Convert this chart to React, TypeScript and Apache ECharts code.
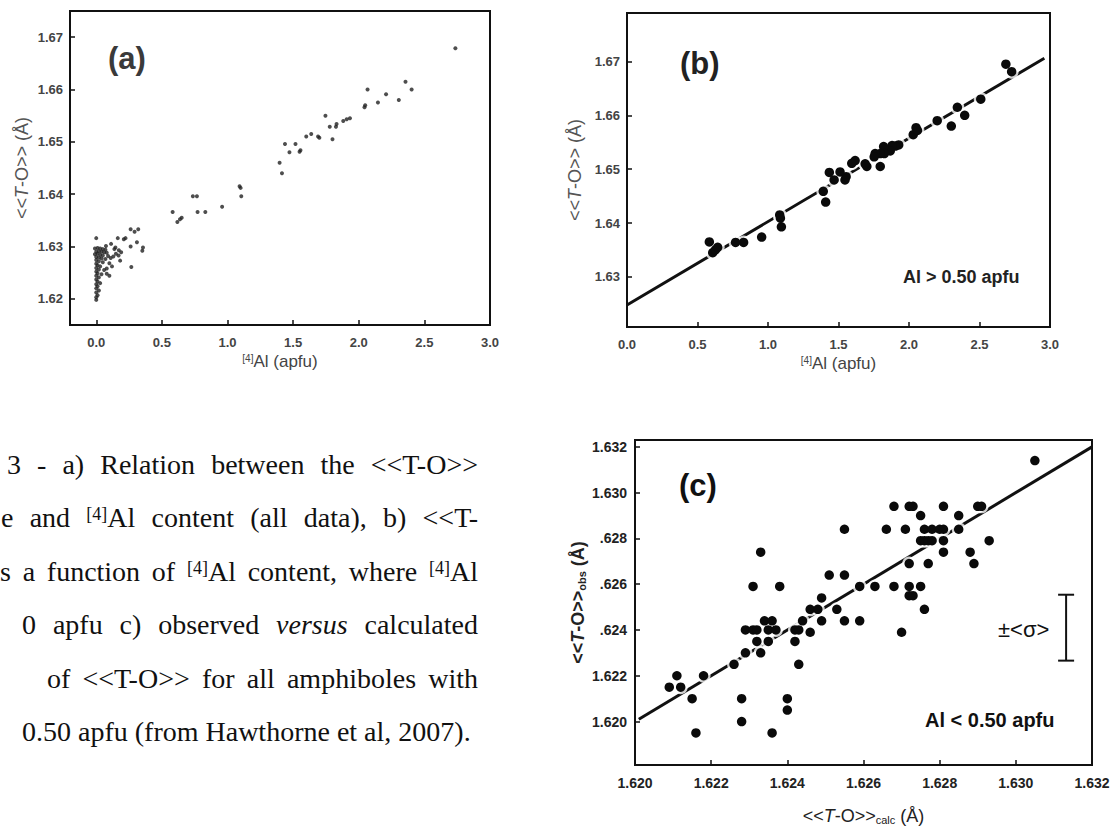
import React, { useEffect, useRef } from "react";
import * as echarts from "echarts";

// ---------- Data ----------
// Panel (a): all data, [4]Al (apfu) vs <<T-O>> (Å)
const panelAHighAl: number[][] = [
  [2.736, 1.6679], [2.356, 1.6615], [2.403, 1.66], [2.305, 1.658], [2.208, 1.6591], [2.146, 1.6575],
  [2.067, 1.66], [2.049, 1.657], [2.044, 1.6566], [1.933, 1.6545], [1.908, 1.6543], [1.882, 1.654],
  [1.831, 1.6534], [1.826, 1.6529], [1.779, 1.6529], [1.746, 1.655], [1.8, 1.6505], [1.7, 1.6508],
  [1.69, 1.651], [1.638, 1.6515], [1.6, 1.651], [1.556, 1.6484], [1.549, 1.6481], [1.518, 1.6496],
  [1.472, 1.648], [1.438, 1.6496], [1.415, 1.644], [1.397, 1.646], [1.1, 1.6412], [1.092, 1.6415],
  [1.105, 1.6396], [0.959, 1.6376], [0.831, 1.6366], [0.772, 1.6366], [0.767, 1.6396], [0.736, 1.6396],
  [0.582, 1.6366], [0.651, 1.6355], [0.638, 1.6352], [0.618, 1.6347],
];
const panelALowAl: number[][] = [
  [0.0, 1.6316], [0.074, 1.6301], [0.113, 1.6305], [0.138, 1.6295], [0.146, 1.6298], [0.164, 1.6316],
  [0.172, 1.6293], [0.182, 1.6273], [0.21, 1.6314], [0.223, 1.6316], [0.262, 1.63], [0.267, 1.6261],
  [0.31, 1.6308], [0.351, 1.6292], [0.356, 1.6298], [0.262, 1.6333], [0.292, 1.6328], [0.32, 1.6333],
  [-0.01, 1.6296], [0.01, 1.6297], [0.03, 1.6296], [0.05, 1.6295], [0.07, 1.6294], [0.0, 1.629],
  [0.02, 1.6291], [0.04, 1.629], [0.06, 1.6289], [0.08, 1.6288], [-0.01, 1.6285], [0.01, 1.6286],
  [0.03, 1.6284], [0.05, 1.6283], [0.09, 1.6282], [0.0, 1.628], [0.02, 1.6279], [0.04, 1.6277],
  [0.07, 1.6276], [0.11, 1.6278], [0.13, 1.6281], [0.0, 1.6274], [0.02, 1.6272], [0.05, 1.627],
  [0.0, 1.6267], [0.01, 1.6264], [0.03, 1.6262], [0.0, 1.6259], [0.02, 1.6256], [0.06, 1.6255],
  [0.0, 1.6252], [0.01, 1.6249], [0.04, 1.6247], [0.08, 1.6248], [0.1, 1.6244], [0.0, 1.6244],
  [0.02, 1.6241], [0.0, 1.6237], [0.01, 1.6233], [0.03, 1.623], [0.0, 1.6228], [0.01, 1.6224],
  [0.0, 1.622], [0.02, 1.6216], [0.0, 1.6212], [0.01, 1.6207], [0.0, 1.6203], [0.0, 1.6198],
  [0.15, 1.6286], [0.17, 1.6283], [0.19, 1.6289], [0.1, 1.6268], [0.12, 1.6262], [0.08, 1.6258],
];

// Panel (b): Al > 0.50 apfu
const panelBPoints: number[][] = [
  [2.687, 1.6695], [2.728, 1.6681], [2.509, 1.663], [2.343, 1.6615], [2.395, 1.66], [2.3, 1.658],
  [2.2, 1.659], [2.05, 1.6577], [2.03, 1.6564], [2.06, 1.6572], [1.927, 1.6545], [1.903, 1.6543],
  [1.88, 1.6544], [1.867, 1.6534], [1.82, 1.6542], [1.825, 1.6529], [1.796, 1.6529], [1.76, 1.6529],
  [1.753, 1.6523], [1.796, 1.6505], [1.701, 1.6505], [1.689, 1.651], [1.618, 1.6516], [1.594, 1.6511],
  [1.546, 1.648], [1.554, 1.6486], [1.511, 1.6495], [1.469, 1.648], [1.435, 1.6494], [1.392, 1.6459],
  [1.409, 1.6439], [1.083, 1.6415], [1.088, 1.6409], [1.095, 1.6393], [0.955, 1.6374], [0.827, 1.6364],
  [0.77, 1.6364], [0.584, 1.6365], [0.608, 1.6345], [0.627, 1.635], [0.643, 1.6355],
];
const panelBFit: number[][] = [[0, 1.6248], [2.96, 1.6706]];

// Panel (c): observed vs calculated, Al < 0.50 apfu
const panelCPoints: number[][] = [
  [1.6305, 1.6314], [1.6268, 1.6294], [1.6272, 1.6294], [1.6273, 1.6294], [1.6281, 1.6294],
  [1.629, 1.6294], [1.6291, 1.6294], [1.6275, 1.629], [1.6285, 1.629], [1.6266, 1.6284],
  [1.6271, 1.6284], [1.6276, 1.6284], [1.6278, 1.6284], [1.628, 1.6284], [1.6281, 1.6284],
  [1.6285, 1.6284], [1.6255, 1.6284], [1.6275, 1.6279], [1.6276, 1.6279], [1.6277, 1.6279],
  [1.6278, 1.6279], [1.6281, 1.6279], [1.6293, 1.6279], [1.6281, 1.6274], [1.6288, 1.6274],
  [1.6289, 1.6269], [1.6272, 1.6269], [1.6277, 1.6269], [1.6233, 1.6274], [1.6251, 1.6264],
  [1.6255, 1.6264], [1.6231, 1.6259], [1.6238, 1.6259], [1.6259, 1.6259], [1.6263, 1.6259],
  [1.6268, 1.6259], [1.6272, 1.6259], [1.6275, 1.6259], [1.6272, 1.6255], [1.6273, 1.6255],
  [1.6276, 1.6249], [1.6249, 1.6254], [1.6246, 1.6249], [1.6248, 1.6249], [1.6253, 1.6249],
  [1.6249, 1.6244], [1.6255, 1.6244], [1.6259, 1.6244], [1.6244, 1.6244], [1.6234, 1.6244],
  [1.6236, 1.6244], [1.6229, 1.624], [1.6231, 1.624], [1.6232, 1.624], [1.6235, 1.624],
  [1.6237, 1.624], [1.6242, 1.624], [1.6243, 1.624], [1.6246, 1.6239], [1.627, 1.6239],
  [1.6232, 1.6235], [1.6235, 1.6235], [1.6242, 1.6235], [1.6229, 1.623], [1.6233, 1.623],
  [1.6226, 1.6225], [1.6243, 1.6225], [1.6211, 1.622], [1.6209, 1.6215], [1.6212, 1.6215],
  [1.6218, 1.622], [1.6215, 1.621], [1.6228, 1.621], [1.624, 1.621], [1.624, 1.6205],
  [1.6228, 1.62], [1.6216, 1.6195], [1.6236, 1.6195],
];
const panelCFit: number[][] = [[1.6201, 1.6201], [1.632, 1.632]];
const panelCSigma: number[][] = [[1.63132, 1.62266, 1.62554]];

// Tick values
const aXTicks = [0, 0.5, 1, 1.5, 2, 2.5, 3];
const aYTicks = [1.62, 1.63, 1.64, 1.65, 1.66, 1.67];
const bXTicks = [0, 0.5, 1, 1.5, 2, 2.5, 3];
const bYTicks = [1.63, 1.64, 1.65, 1.66, 1.67];
const cTicks = [1.62, 1.622, 1.624, 1.626, 1.628, 1.63, 1.632];

// ---------- Styling helpers ----------
const SANS = "'Liberation Sans', Arial, Helvetica, sans-serif";
const SERIF = "'Liberation Serif', 'Times New Roman', serif";

function axis(opts: any) {
  const {
    gridIndex, min, max, ticks, fmt, name, nameGap, labelSize, labelColor, labelMargin,
    nameSize, nameColor, nameWeight,
  } = opts;
  return {
    type: "value",
    gridIndex,
    min,
    max,
    scale: true,
    axisLine: { show: false, onZero: false },
    splitLine: { show: false },
    axisTick: {
      show: true,
      inside: true,
      length: 5,
      customValues: ticks,
      lineStyle: { color: "#111", width: 1.5 },
    },
    axisLabel: {
      customValues: ticks,
      formatter: fmt,
      color: labelColor,
      fontWeight: "bold",
      fontSize: labelSize,
      fontFamily: SANS,
      margin: labelMargin,
    },
    name,
    nameLocation: "middle",
    nameGap,
    nameTextStyle: {
      color: nameColor,
      fontSize: nameSize,
      fontFamily: SANS,
      fontWeight: nameWeight,
      rich: {
        sup: { fontSize: Math.round(nameSize * 0.6), verticalAlign: "top", color: nameColor, fontFamily: SANS, fontWeight: nameWeight },
        it: { fontStyle: "italic", fontSize: nameSize, color: nameColor, fontFamily: SANS, fontWeight: nameWeight },
        sub: { fontSize: Math.round(nameSize * 0.62), verticalAlign: "bottom", color: nameColor, fontFamily: SANS, fontWeight: nameWeight },
      },
    },
  };
}

const gridStyle = { show: true, borderColor: "#111", borderWidth: 2, backgroundColor: "transparent", containLabel: false };

const option: any = {
  animation: false,
  backgroundColor: "#ffffff",
  grid: [
    { ...gridStyle, left: 70, top: 11, width: 420, height: 314 },
    { ...gridStyle, left: 627, top: 13, width: 423, height: 314 },
    { ...gridStyle, left: 635, top: 440, width: 457, height: 325 },
  ],
  xAxis: [
    axis({
      gridIndex: 0, min: -0.2, max: 3.0, ticks: aXTicks, fmt: (v: number) => v.toFixed(1),
      name: "{sup|[4]}Al (apfu)", nameGap: 28, labelSize: 13, labelColor: "#444", labelMargin: 11,
      nameSize: 17, nameColor: "#444", nameWeight: "normal",
    }),
    axis({
      gridIndex: 1, min: 0, max: 3.0, ticks: bXTicks, fmt: (v: number) => v.toFixed(1),
      name: "{sup|[4]}Al (apfu)", nameGap: 28, labelSize: 13, labelColor: "#444", labelMargin: 11,
      nameSize: 17, nameColor: "#444", nameWeight: "normal",
    }),
    axis({
      gridIndex: 2, min: 1.62, max: 1.632, ticks: cTicks, fmt: (v: number) => v.toFixed(3),
      name: "<<{it|T}-O>>{sub|calc} (Å)", nameGap: 42, labelSize: 14, labelColor: "#222", labelMargin: 11,
      nameSize: 18, nameColor: "#222", nameWeight: "normal",
    }),
  ],
  yAxis: [
    axis({
      gridIndex: 0, min: 1.615, max: 1.675, ticks: aYTicks, fmt: (v: number) => v.toFixed(2),
      name: "<<{it|T}-O>> (Å)", nameGap: 39, labelSize: 13, labelColor: "#444", labelMargin: 7,
      nameSize: 18, nameColor: "#555", nameWeight: "normal",
    }),
    axis({
      gridIndex: 1, min: 1.6207, max: 1.679, ticks: bYTicks, fmt: (v: number) => v.toFixed(2),
      name: "<<{it|T}-O>> (Å)", nameGap: 43, labelSize: 13, labelColor: "#444", labelMargin: 7,
      nameSize: 18, nameColor: "#555", nameWeight: "normal",
    }),
    axis({
      gridIndex: 2, min: 1.6181, max: 1.6323, ticks: cTicks,
      fmt: (v: number) => {
        const s = v.toFixed(3);
        return v > 1.6225 && v < 1.6295 ? s.slice(1) : s;
      },
      name: "<<{it|T}-O>>{sub|obs} (Å)", nameGap: 48, labelSize: 14, labelColor: "#222", labelMargin: 8,
      nameSize: 18, nameColor: "#222", nameWeight: "bold",
    }),
  ],
  series: [
    // (a)
    {
      type: "scatter", xAxisIndex: 0, yAxisIndex: 0, data: panelAHighAl,
      symbol: "circle", symbolSize: 4, itemStyle: { color: "#222" }, z: 3,
    },
    {
      type: "scatter", xAxisIndex: 0, yAxisIndex: 0, data: panelALowAl,
      symbol: "circle", symbolSize: 4, itemStyle: { color: "#222" }, z: 3,
    },
    // (b)
    {
      type: "line", xAxisIndex: 1, yAxisIndex: 1, data: panelBFit, symbol: "none",
      lineStyle: { color: "#111", width: 3 }, z: 1, silent: true,
    },
    {
      type: "scatter", xAxisIndex: 1, yAxisIndex: 1, data: panelBPoints,
      symbol: "circle", symbolSize: 14, itemStyle: { color: "#ffffff" }, z: 2, silent: true,
    },
    {
      type: "scatter", xAxisIndex: 1, yAxisIndex: 1, data: panelBPoints,
      symbol: "circle", symbolSize: 9.5, itemStyle: { color: "#0a0a0a", opacity: 1 }, z: 3,
    },
    // (c)
    {
      type: "line", xAxisIndex: 2, yAxisIndex: 2, data: panelCFit, symbol: "none",
      lineStyle: { color: "#111", width: 3 }, z: 1, silent: true,
    },
    {
      type: "scatter", xAxisIndex: 2, yAxisIndex: 2, data: panelCPoints,
      symbol: "circle", symbolSize: 14, itemStyle: { color: "#ffffff" }, z: 2, silent: true,
    },
    {
      type: "scatter", xAxisIndex: 2, yAxisIndex: 2, data: panelCPoints,
      symbol: "circle", symbolSize: 9.5, itemStyle: { color: "#0a0a0a", opacity: 1 }, z: 3,
    },
    {
      type: "custom", xAxisIndex: 2, yAxisIndex: 2, data: panelCSigma,
      encode: { x: 0, y: [1, 2] },
      renderItem: (_params: any, api: any) => {
        const top = api.coord([api.value(0), api.value(2)]);
        const bot = api.coord([api.value(0), api.value(1)]);
        const hw = 8;
        const st = { stroke: "#111", lineWidth: 2 };
        return {
          type: "group",
          children: [
            { type: "line", shape: { x1: top[0], y1: top[1], x2: bot[0], y2: bot[1] }, style: st },
            { type: "line", shape: { x1: top[0] - hw, y1: top[1], x2: top[0] + hw, y2: top[1] }, style: st },
            { type: "line", shape: { x1: bot[0] - hw, y1: bot[1], x2: bot[0] + hw, y2: bot[1] }, style: st },
          ],
        };
      },
      z: 4,
    },
  ],
  graphic: [
    { type: "text", left: 108, top: 43, style: { text: "(a)", font: `bold 31px ${SANS}`, fill: "#3a3a3a" } },
    { type: "text", left: 680, top: 48, style: { text: "(b)", font: `bold 31px ${SANS}`, fill: "#222" } },
    { type: "text", left: 679, top: 470, style: { text: "(c)", font: `bold 31px ${SANS}`, fill: "#111" } },
    { type: "text", left: 903, top: 268, style: { text: "Al > 0.50 apfu", font: `bold 18px ${SANS}`, fill: "#222" } },
    { type: "text", left: 925, top: 710, style: { text: "Al < 0.50 apfu", font: `bold 20px ${SANS}`, fill: "#111" } },
    { type: "text", left: 998, top: 618, style: { text: "±<σ>", font: `normal 22px ${SANS}`, fill: "#111" } },
  ],
};

// ---------- Caption ----------
const captionFont = 28;
const lineStyleBase: React.CSSProperties = {
  position: "absolute",
  fontFamily: SERIF,
  fontSize: captionFont,
  lineHeight: "34px",
  color: "#111",
  whiteSpace: "normal",
};
const sup: React.CSSProperties = { fontSize: 18, verticalAlign: "top", position: "relative", top: -4 };

export default function App() {
  const ref = useRef<HTMLDivElement>(null);
  useEffect(() => {
    if (!ref.current) return;
    const chart = echarts.init(ref.current, null, { renderer: "svg", width: 1114, height: 827 });
    chart.setOption(option);
    return () => chart.dispose();
  }, []);

  const justify = (left: number, right: number, top: number): React.CSSProperties => ({
    ...lineStyleBase,
    left,
    top,
    width: right - left,
    textAlign: "justify",
    textAlignLast: "justify" as any,
  });

  return (
    <div style={{ position: "absolute", left: 0, top: 0, width: 1114, height: 827, background: "#fff", overflow: "hidden" }}>
      <div ref={ref} style={{ position: "absolute", left: 0, top: 0, width: 1114, height: 827 }} />
      <div style={justify(7, 478, 448)}>{"3 - a) Relation between the <<T-O>>"}</div>
      <div style={justify(1, 478, 501)}>
        {"e  and "}<span style={sup}>[4]</span>{"Al content (all data), b) <<T-"}
      </div>
      <div style={justify(0, 478, 555)}>
        {"s a function of "}<span style={sup}>[4]</span>{"Al content, where "}<span style={sup}>[4]</span>{"Al"}
      </div>
      <div style={justify(22, 478, 608)}>
        {"0 apfu c) observed "}<i>versus</i>{" calculated"}
      </div>
      <div style={justify(47, 478, 662)}>{"of <<T-O>> for all amphiboles with"}</div>
      <div style={{ ...lineStyleBase, left: 22, top: 715 }}>{"0.50 apfu (from Hawthorne et al, 2007)."}</div>
    </div>
  );
}
